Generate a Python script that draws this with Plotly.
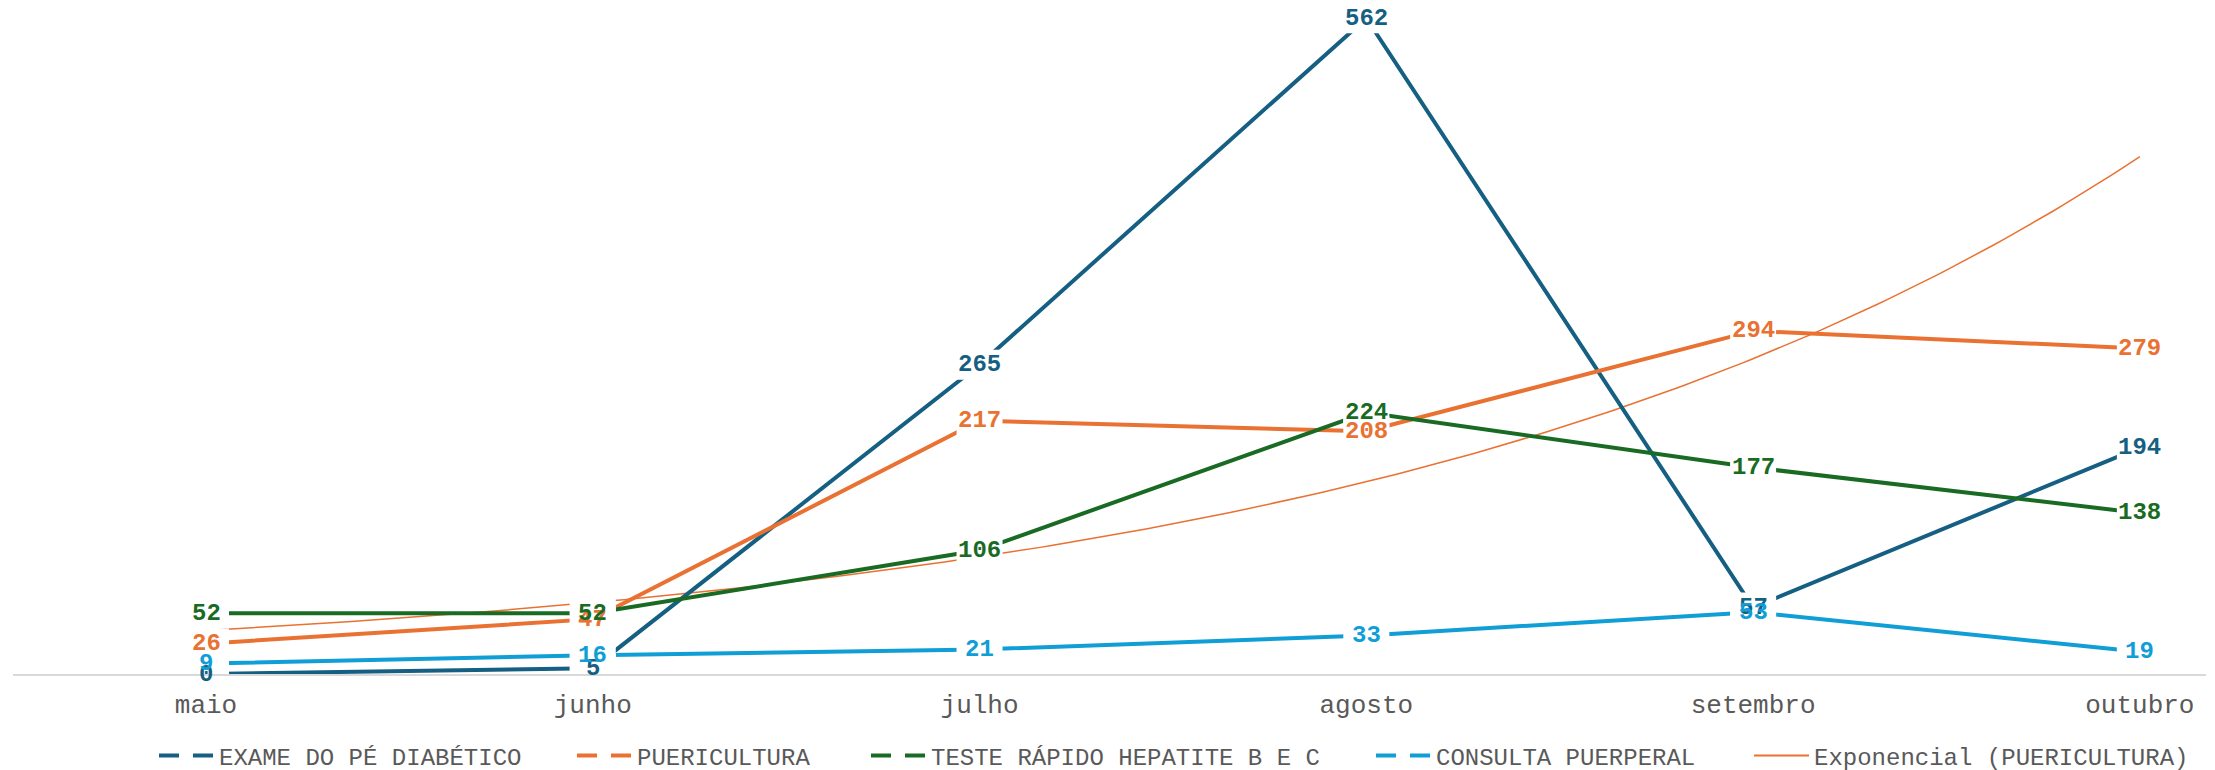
import numpy as np
import plotly.graph_objects as go

months = ["maio", "junho", "julho", "agosto", "setembro", "outubro"]
exame = [0, 5, 265, 562, 57, 194]
puericultura = [26, 47, 217, 208, 294, 279]
teste = [52, 52, 106, 224, 177, 138]
consulta = [9, 16, 21, 33, 53, 19]

names = ["EXAME DO PÉ DIABÉTICO", "PUERICULTURA", "TESTE RÁPIDO HEPATITE B E C", "CONSULTA PUERPERAL"]
colors = ["#156082", "#E97132", "#196B24", "#0F9ED5"]
series = [exame, puericultura, teste, consulta]
trend_name = "Exponencial (PUERICULTURA)"

W, H = 2215, 770
FONT = "Liberation Mono, Courier New, monospace"
xs = list(range(len(months)))

fig = go.Figure()

# exponential trendline (Excel-style: least squares on ln y, x = 1..n)
xn = np.arange(1, len(puericultura) + 1)
b, a = np.polyfit(xn, np.log(puericultura), 1)
xt = np.linspace(1, len(puericultura), 200)
yt = np.exp(a + b * xt)
fig.add_trace(go.Scatter(x=xt - 1, y=yt, mode="lines", line=dict(color="#E97132", width=1.5),
                         showlegend=False, hoverinfo="skip", cliponaxis=False))

for nm, col, vals in zip(names, colors, series):
    fig.add_trace(go.Scatter(x=xs, y=vals, mode="lines", line=dict(color=col, width=4),
                             showlegend=False, cliponaxis=False, name=nm))

# white label boxes (anchored at data points, sized in pixels), then label texts
shapes = []
annotations = []
for col, vals in zip(colors, series):
    for i, v in enumerate(vals):
        shapes.append(dict(type="rect", xref="x", yref="y", xsizemode="pixel", ysizemode="pixel",
                           xanchor=i, yanchor=v, x0=-23, x1=23, y0=-15, y1=15,
                           fillcolor="white", line=dict(width=0), layer="above"))
        annotations.append(dict(x=i, y=v, xref="x", yref="y", text=str(v), showarrow=False,
                                font=dict(family=FONT, size=24, color=col, weight="bold")))

# legends (one per entry, positioned individually)
text_starts = [222, 640, 934, 1439, 1817]
legend_names = names + [trend_name]
legend_colors = colors + ["#E97132"]
legend_layouts = {}
for k, (nm, col, ts) in enumerate(zip(legend_names, legend_colors, text_starts)):
    key = "legend" if k == 0 else f"legend{k+1}"
    if k < 4:
        ln = dict(color=col, width=4, dash="20px,14px")
    else:
        ln = dict(color=col, width=2)
    fig.add_trace(go.Scatter(x=[None], y=[None], mode="lines", line=ln, name=nm,
                             legend=key, showlegend=True, hoverinfo="skip"))
    legend_layouts[key] = dict(orientation="h", xref="container", yref="container",
                               x=(ts - 68) / W, xanchor="left", y=(H - 756) / H, yanchor="middle",
                               font=dict(family=FONT, size=24, color="#595959"),
                               itemwidth=55, bgcolor="rgba(0,0,0,0)", borderwidth=0,
                               itemclick=False, itemdoubleclick=False)

fig.update_layout(
    width=W, height=H,
    margin=dict(l=13, r=9, t=10, b=96, autoexpand=False),
    paper_bgcolor="white", plot_bgcolor="white",
    annotations=annotations,
    shapes=shapes,
    xaxis=dict(range=[-0.499, 5.171], tickmode="array", tickvals=xs, ticktext=months,
               showgrid=False, zeroline=False, showline=True, linecolor="#d9d9d9", linewidth=2,
               ticks="", layer="below traces", ticklabelstandoff=6,
               tickfont=dict(family=FONT, size=26, color="#595959")),
    yaxis=dict(range=[0, 569], visible=False, showgrid=False, zeroline=False),
    hovermode=False,
    **legend_layouts,
)

fig.write_html("out.html", config={"displayModeBar": False},
               post_script="document.body.style.margin='0';document.body.style.overflow='hidden';")
